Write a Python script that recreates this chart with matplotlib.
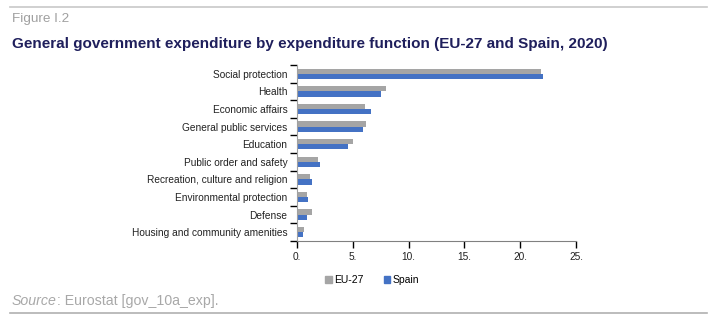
import matplotlib
matplotlib.use("Agg")
import matplotlib.pyplot as plt
import numpy as np
from matplotlib.lines import Line2D
from matplotlib.patches import Patch

plt.rcParams['font.family'] = ['Liberation Sans', 'DejaVu Sans']

categories = ["Social protection", "Health", "Economic affairs", "General public services",
              "Education", "Public order and safety", "Recreation, culture and religion",
              "Environmental protection", "Defense", "Housing and community amenities"]
eu27 = [21.9, 8.0, 6.1, 6.2, 5.0, 1.9, 1.2, 0.9, 1.3, 0.6]
spain = [22.0, 7.5, 6.6, 5.9, 4.6, 2.1, 1.3, 1.0, 0.9, 0.5]
xticks = [0, 5, 10, 15, 20, 25]
xtick_labels = ["0.", "5.", "10.", "15.", "20.", "25."]

fig = plt.figure(figsize=(7.17, 3.21), dpi=100)
ax = fig.add_axes([297/717, 1-241/321, (576-297)/717, (241-65)/321])

n = len(categories)
pos = np.arange(n)
h = 0.3
ax.barh(pos - h/2, eu27, height=h, color="#a5a5a5", label="EU-27")
ax.barh(pos + h/2, spain, height=h, color="#4472c4", label="Spain")
ax.set_ylim(n - 0.5, -0.5)
ax.set_xlim(0, 25)
ax.set_yticks(pos)
ax.set_yticklabels(categories, fontsize=7.3, color="#222222")
ax.tick_params(axis='y', length=0, pad=7)
ax.set_yticks(np.arange(-0.5, n, 1), minor=True)
ax.tick_params(axis='y', which='minor', length=5, width=1, direction='out')
ax.set_xticks(xticks)
ax.set_xticklabels(xtick_labels, fontsize=7.3, color="#222222")
ax.tick_params(axis='x', length=5, width=1, direction='out', pad=3)
for s in ["top", "right"]:
    ax.spines[s].set_visible(False)
ax.spines["left"].set_color("#a0a0a0")
ax.spines["bottom"].set_color("#808080")

handles = [Patch(color="#a5a5a5", label="EU-27"), Patch(color="#4472c4", label="Spain")]
fig.legend(handles=handles, loc="center", bbox_to_anchor=(372/717, 1-280/321), ncol=2,
           frameon=False, fontsize=7.5, handlelength=0.6, handleheight=0.6,
           handletextpad=0.2, columnspacing=2.0)

fig.add_artist(Line2D([10/717, 707/717], [1-7/321, 1-7/321], color="#c8c8c8", lw=1.2))
fig.add_artist(Line2D([10/717, 707/717], [1-313/321, 1-313/321], color="#b0b0b0", lw=1.2))
fig.text(12/717, 1-19/321, "Figure I.2", fontsize=9.7, color="#a0a0a0", va="center")
fig.text(12/717, 1-44/321, "General government expenditure by expenditure function (EU-27 and Spain, 2020)",
         fontsize=11, fontweight="bold", color="#1f1f5c", va="center")
t = fig.text(12/717, 1-301/321, "Source", fontsize=10.2, color="#a8a8a8", style="italic", va="center")
fig.canvas.draw()
bb = t.get_window_extent()
fig.text(bb.x1/717, 1-301/321, ": Eurostat [gov_10a_exp].", fontsize=10.2, color="#a8a8a8", va="center")

fig.savefig("out.png", dpi=100)
